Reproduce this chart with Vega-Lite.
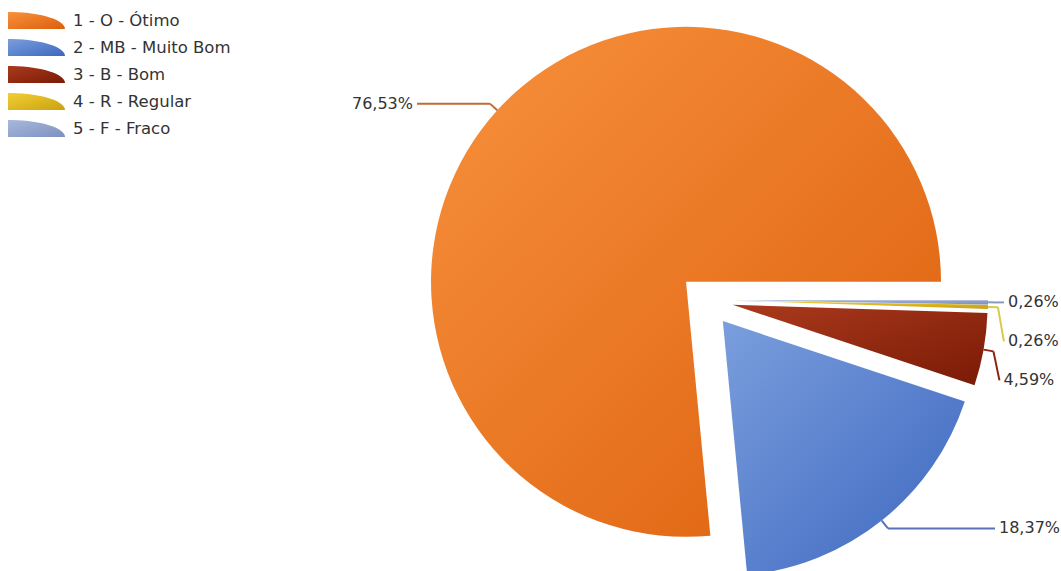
{
  "$schema": "https://vega.github.io/schema/vega-lite/v6.json",
  "width": 1061,
  "height": 571,
  "padding": 0,
  "autosize": {"type": "none"},
  "background": "white",
  "config": {
    "view": {"stroke": null},
    "font": "DejaVu Sans",
    "locale": {"number": {"decimal": ",", "thousands": ".", "grouping": [3], "currency": ["R$", ""]}}
  },
  "data": {
    "values": [
      {"cat": "1 - O - Ótimo", "ord": 1, "pct": 76.53},
      {"cat": "2 - MB - Muito Bom", "ord": 2, "pct": 18.37},
      {"cat": "3 - B - Bom", "ord": 3, "pct": 4.59},
      {"cat": "4 - R - Regular", "ord": 4, "pct": 0.26},
      {"cat": "5 - F - Fraco", "ord": 5, "pct": 0.26}
    ]
  },
  "transform": [
    {"joinaggregate": [{"op": "sum", "field": "pct", "as": "total"}]},
    {"window": [{"op": "sum", "field": "pct", "as": "cum"}], "sort": [{"field": "ord", "order": "descending"}], "frame": [null, 0]},
    {"calculate": "PI/2 + 2*PI*(datum.cum - datum.pct)/datum.total", "as": "t0"},
    {"calculate": "PI/2 + 2*PI*datum.cum/datum.total", "as": "t1"},
    {"calculate": "(datum.t0 + datum.t1)/2", "as": "mid"},
    {"calculate": "sin(datum.mid)", "as": "ux"},
    {"calculate": "-cos(datum.mid)", "as": "uy"},
    {"calculate": "27*datum.ux", "as": "ox"},
    {"calculate": "27*datum.uy", "as": "oy"},
    {"calculate": "282*datum.ux", "as": "ex"},
    {"calculate": "282*datum.uy", "as": "ey"},
    {"calculate": "292*datum.ux", "as": "bx"},
    {"calculate": "292*datum.uy", "as": "by"},
    {"calculate": "datum.ux >= 0 ? 1 : -1", "as": "side"},
    {"window": [{"op": "row_number", "as": "k"}], "groupby": ["side"], "sort": [{"field": "by", "order": "ascending"}]},
    {"calculate": "datum.by - 39*datum.k", "as": "v"},
    {"window": [{"op": "max", "field": "v", "as": "m"}], "groupby": ["side"], "sort": [{"field": "by", "order": "ascending"}], "frame": [null, 0]},
    {"calculate": "datum.m + 39*datum.k", "as": "ly"},
    {"calculate": "datum.side*max(289, abs(datum.bx) + 6)", "as": "lx"},
    {"calculate": "datum.lx + 4*datum.side", "as": "tx"},
    {"calculate": "datum.pct/100", "as": "share"}
  ],
  "layer": [
    {
      "mark": {"type": "arc", "outerRadius": 255},
      "encoding": {
        "x": {"field": "ox", "type": "quantitative", "scale": {"domain": [-706, 355], "nice": false, "zero": false}, "axis": null},
        "y": {"field": "oy", "type": "quantitative", "scale": {"domain": [-300, 271], "nice": false, "zero": false, "reverse": true}, "axis": null},
        "theta": {"field": "t0", "type": "quantitative", "scale": null, "stack": null},
        "theta2": {"field": "t1"},
        "color": {
          "field": "cat",
          "type": "nominal",
          "scale": {
            "domain": ["1 - O - Ótimo", "2 - MB - Muito Bom", "3 - B - Bom", "4 - R - Regular", "5 - F - Fraco"],
            "range": [
              {"expr": "{gradient: 'linear', x1: 0, y1: 0, x2: 1, y2: 1, stops: [{offset: 0, color: '#f8913d'}, {offset: 1, color: '#dc5f0c'}]}"},
              {"expr": "{gradient: 'linear', x1: 0, y1: 0, x2: 1, y2: 1, stops: [{offset: 0, color: '#7a9edd'}, {offset: 1, color: '#3d67bf'}]}"},
              {"expr": "{gradient: 'linear', x1: 0, y1: 0, x2: 1, y2: 1, stops: [{offset: 0, color: '#ab3a1d'}, {offset: 1, color: '#7a1a06'}]}"},
              {"expr": "{gradient: 'linear', x1: 0, y1: 0, x2: 1, y2: 1, stops: [{offset: 0, color: '#f2cf35'}, {offset: 1, color: '#c9a210'}]}"},
              {"expr": "{gradient: 'linear', x1: 0, y1: 0, x2: 1, y2: 1, stops: [{offset: 0, color: '#a9b9db'}, {offset: 1, color: '#7d90c0'}]}"}
            ]
          },
          "legend": {
            "orient": "none",
            "legendX": 8,
            "legendY": 12,
            "title": null,
            "padding": 0,
            "symbolType": "M-1,0.3L-1,-0.3C0.104,-0.3 1,-0.031 1,0.3Z",
            "symbolSize": 3249,
            "symbolStrokeWidth": 0,
            "clipHeight": 17,
            "rowPadding": 10,
            "labelOffset": 8,
            "labelFont": "DejaVu Sans",
            "labelFontSize": 16.5,
            "labelColor": "#333333",
            "labelLimit": 0
          }
        }
      }
    },
    {
      "mark": {"type": "rule", "strokeWidth": 2},
      "encoding": {
        "x": {"field": "ex", "type": "quantitative", "scale": {"domain": [-706, 355], "nice": false, "zero": false}, "axis": null},
        "y": {"field": "ey", "type": "quantitative", "scale": {"domain": [-300, 271], "nice": false, "zero": false, "reverse": true}, "axis": null},
        "x2": {"field": "bx"},
        "y2": {"field": "by"},
        "color": {
          "field": "cat",
          "type": "nominal",
          "scale": {
            "domain": ["1 - O - Ótimo", "2 - MB - Muito Bom", "3 - B - Bom", "4 - R - Regular", "5 - F - Fraco"],
            "range": ["#bf6c34", "#5a70b8", "#8a2414", "#d9c94c", "#8a9bc2"]
          },
          "legend": null
        }
      }
    },
    {
      "mark": {"type": "rule", "strokeWidth": 2},
      "encoding": {
        "x": {"field": "bx", "type": "quantitative", "scale": {"domain": [-706, 355], "nice": false, "zero": false}, "axis": null},
        "y": {"field": "by", "type": "quantitative", "scale": {"domain": [-300, 271], "nice": false, "zero": false, "reverse": true}, "axis": null},
        "x2": {"field": "lx"},
        "y2": {"field": "ly"},
        "color": {
          "field": "cat",
          "type": "nominal",
          "scale": {
            "domain": ["1 - O - Ótimo", "2 - MB - Muito Bom", "3 - B - Bom", "4 - R - Regular", "5 - F - Fraco"],
            "range": ["#bf6c34", "#5a70b8", "#8a2414", "#d9c94c", "#8a9bc2"]
          },
          "legend": null
        }
      }
    },
    {
      "transform": [{"filter": "datum.side > 0"}],
      "mark": {"type": "text", "align": "left", "baseline": "middle", "font": "DejaVu Sans", "fontSize": 16, "color": "#333333"},
      "encoding": {
        "x": {"field": "tx", "type": "quantitative", "scale": {"domain": [-706, 355], "nice": false, "zero": false}, "axis": null},
        "y": {"field": "ly", "type": "quantitative", "scale": {"domain": [-300, 271], "nice": false, "zero": false, "reverse": true}, "axis": null},
        "text": {"field": "share", "type": "quantitative", "format": ".2%"}
      }
    },
    {
      "transform": [{"filter": "datum.side < 0"}],
      "mark": {"type": "text", "align": "right", "baseline": "middle", "font": "DejaVu Sans", "fontSize": 16, "color": "#333333"},
      "encoding": {
        "x": {"field": "tx", "type": "quantitative", "scale": {"domain": [-706, 355], "nice": false, "zero": false}, "axis": null},
        "y": {"field": "ly", "type": "quantitative", "scale": {"domain": [-300, 271], "nice": false, "zero": false, "reverse": true}, "axis": null},
        "text": {"field": "share", "type": "quantitative", "format": ".2%"}
      }
    }
  ],
  "resolve": {"scale": {"color": "independent"}}
}
